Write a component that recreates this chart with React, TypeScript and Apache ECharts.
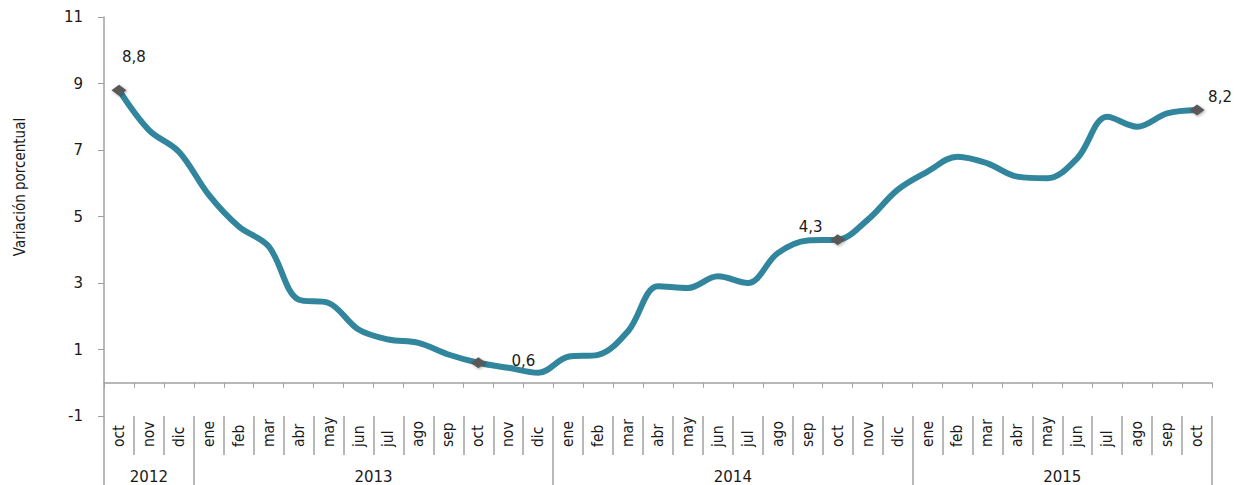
import React, { useEffect, useRef } from 'react';
import * as echarts from 'echarts';

const months = ['oct','nov','dic','ene','feb','mar','abr','may','jun','jul','ago','sep','oct','nov','dic','ene','feb','mar','abr','may','jun','jul','ago','sep','oct','nov','dic','ene','feb','mar','abr','may','jun','jul','ago','sep','oct'];
const values = [8.8,7.6,6.95,5.65,4.7,4.1,2.5,2.4,1.6,1.3,1.2,0.85,0.6,0.45,0.3,0.78,0.84,1.55,2.9,2.85,3.2,3.0,3.9,4.28,4.3,4.9,5.8,6.35,6.8,6.6,6.2,6.15,6.75,8.0,7.7,8.1,8.2];
const years = ['2012','2013','2014','2015'];
const yearStarts = [0, 3, 15, 27];
const yTicks = [-1, 1, 3, 5, 7, 9, 11];
const markedIdx = [0, 12, 24, 36];
const markedLabelOffsets: Record<number, [number, number]> = {
  0: [15, -33],
  12: [45, -2],
  24: [-27, -13],
  36: [23, -13],
};

const AXIS = '#a0a0a0';
const TEXT = '#1a1a1a';
const WIDE = "'DejaVu Sans', Verdana, sans-serif";
const NARROW = "'Liberation Sans Narrow', 'DejaVu Sans Condensed', 'Noto Sans', sans-serif";

export default function App() {
  const ref = useRef<HTMLDivElement>(null);
  useEffect(() => {
    document.body.style.margin = '0';
    const chart = echarts.init(ref.current!, undefined, { renderer: 'svg' });
    const n = months.length;
    const yearBounds = [...yearStarts, n];
    const yearCenters = yearStarts.map((s, i) => (s + yearBounds[i + 1]) / 2);
    const data = values.map((v, i) =>
      markedIdx.includes(i)
        ? {
            value: v,
            symbol: 'diamond',
            symbolSize: [15, 11],
            itemStyle: { color: '#595959', shadowBlur: 3, shadowColor: 'rgba(0,0,0,0.35)', shadowOffsetX: 1, shadowOffsetY: 1 },
            label: {
              show: true,
              position: 'inside',
              offset: markedLabelOffsets[i],
              formatter: (p: any) => String(p.value).replace('.', ','),
              color: TEXT,
              fontFamily: WIDE,
              fontSize: 15,
            },
          }
        : { value: v, symbol: 'none' }
    );
    chart.setOption({
      animation: false,
      grid: { left: 104, right: 30, top: 17, bottom: 69 },
      graphic: [
        {
          type: 'text',
          x: 20,
          y: 187,
          rotation: Math.PI / 2,
          style: {
            text: 'Variación porcentual',
            fill: TEXT,
            font: `15px ${NARROW}`,
            align: 'center',
            verticalAlign: 'middle',
          },
        },
      ],
      yAxis: {
        type: 'value',
        min: -1,
        max: 11,
        axisLine: { show: true, lineStyle: { color: AXIS, width: 1.5 } },
        axisTick: { show: true, length: 6, customValues: yTicks, lineStyle: { color: AXIS } },
        axisLabel: { customValues: yTicks, margin: 21, color: TEXT, fontFamily: WIDE, fontSize: 15 },
        splitLine: { show: false },
      },
      xAxis: [
        {
          type: 'category',
          data: months,
          boundaryGap: true,
          position: 'bottom',
          axisLine: { show: true, onZero: true, lineStyle: { color: AXIS, width: 1.5 } },
          axisTick: { show: true, interval: 0, length: 5, lineStyle: { color: AXIS } },
          axisLabel: { show: false },
        },
        {
          type: 'category',
          data: months,
          boundaryGap: true,
          position: 'bottom',
          offset: 0,
          axisLine: { show: false, onZero: false },
          axisTick: { show: true, interval: 0, length: 39, lineStyle: { color: AXIS, width: 1.5 } },
          axisLabel: {
            interval: 0,
            rotate: 90,
            align: 'left',
            verticalAlign: 'middle',
            margin: 31,
            color: TEXT,
            fontFamily: NARROW,
            fontSize: 15.5,
          },
        },
        {
          type: 'value',
          min: 0,
          max: n,
          position: 'bottom',
          offset: 39,
          axisLine: { show: false, onZero: false },
          splitLine: { show: false },
          axisTick: { show: true, length: 30, customValues: yearBounds, lineStyle: { color: AXIS, width: 1.5 } },
          axisLabel: {
            customValues: yearCenters,
            formatter: (v: number) => years[yearCenters.indexOf(v)] ?? '',
            margin: 14,
            color: TEXT,
            fontFamily: WIDE,
            fontSize: 15,
          },
        },
      ],
      series: [
        {
          type: 'line',
          xAxisIndex: 0,
          yAxisIndex: 0,
          data,
          smooth: 0.35,
          lineStyle: { color: '#31859C', width: 6 },
          itemStyle: { color: '#595959' },
          z: 3,
        },
      ],
    });
    return () => chart.dispose();
  }, []);
  return <div ref={ref} style={{ width: 1242, height: 485 }} />;
}
